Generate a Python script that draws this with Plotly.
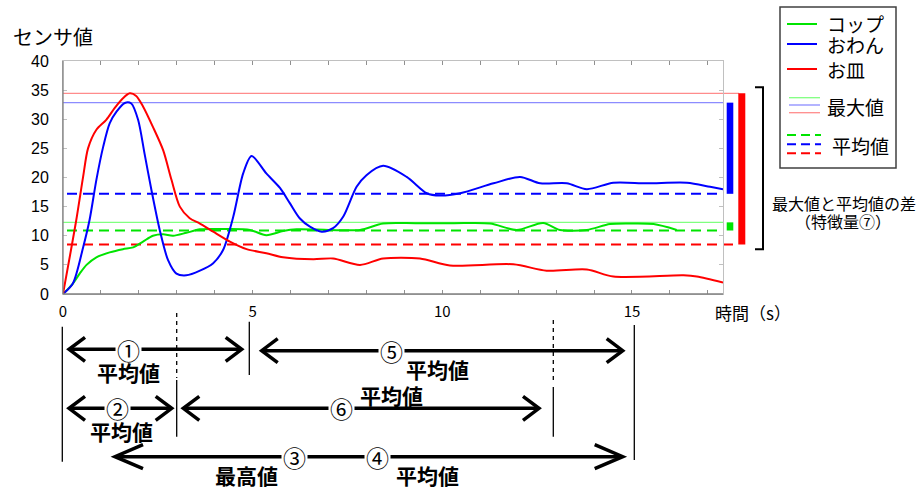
import plotly.graph_objects as go

# ---------------- data ----------------
t_cup = [0, 0.26, 0.44, 0.62, 0.88, 1.23, 1.58, 1.85, 2.11, 2.37, 2.64, 2.90, 3.25, 3.61,
         4.31, 4.93, 5.36, 5.80, 6.16, 7.0, 7.83, 8.44, 9.3, 10.3, 11.26, 11.96, 12.66, 13.1,
         13.81, 14.42, 15.0, 15.57, 16.18]
v_cup = [0, 1.8, 3.5, 5.0, 6.3, 7.15, 7.7, 8.0, 9.0, 10.0, 10.25, 10.0, 10.5, 11.1,
         11.15, 11.0, 10.1, 10.8, 11.1, 11.0, 11.0, 12.1, 12.15, 12.15, 12.1, 11.0, 12.2, 11.0,
         11.0, 12.0, 12.1, 12.0, 11.0]

t_bowl = [0, 0.26, 0.53, 0.70, 0.88, 1.06, 1.23, 1.41, 1.63, 1.80, 1.98, 2.15, 2.33, 2.55,
          2.77, 2.99, 3.25, 3.61, 3.96, 4.22, 4.49, 4.75, 4.97, 5.36, 5.72, 5.98, 6.24,
          6.51, 6.82, 7.12, 7.39, 7.74, 8.0, 8.44, 9.06, 9.59, 9.94, 10.47, 11.35, 12.05,
          12.58, 13.28, 13.81, 14.51, 15.39, 16.45, 17.06, 17.4]
v_bowl = [0, 1.8, 8.0, 12.7, 19.6, 25.3, 29.3, 31.3, 32.8, 32.7, 29.9, 24.1, 17.9, 11.0,
          5.8, 3.5, 3.2, 4.0, 5.3, 7.55, 13.3, 20.7, 23.7, 20.7, 18.2, 15.6, 13.0,
          11.55, 10.7, 11.3, 13.3, 18.4, 20.4, 22.0, 20.1, 17.3, 16.9, 17.3, 19.0, 20.1,
          19.0, 19.0, 18.0, 19.1, 19.0, 19.1, 18.4, 18.0]

t_plate = [0, 0.35, 0.53, 0.66, 0.88, 1.14, 1.36, 1.58, 1.76, 1.93, 2.11, 2.37, 2.64, 2.86,
           3.08, 3.34, 3.61, 3.96, 4.40, 4.84, 5.36, 5.80, 6.6, 7.12, 7.83, 8.44, 9.41,
           10.2, 11.87, 12.75, 13.81, 14.51, 16.36, 16.71, 17.4]
v_plate = [0, 12.7, 20.1, 25.0, 28.2, 29.9, 31.9, 33.6, 34.45, 34.0, 32.2, 28.7, 24.7, 19.6,
           15.0, 13.0, 12.1, 10.7, 9.0, 7.7, 7.0, 6.3, 5.95, 6.1, 5.0, 6.1, 6.1,
           4.9, 5.1, 4.0, 4.2, 3.0, 3.2, 3.0, 1.95]

series_names = ["コップ", "おわん", "お皿"]
series_colors = ["#00e400", "#0000ff", "#ff0000"]
max_colors = ["#80ff80", "#8c8cff", "#ff8c8c"]
max_values = [12.3, 32.85, 34.45]
avg_values = [10.9, 17.2, 8.5]

x_ticks = [0, 5, 10, 15]
y_ticks = [0, 5, 10, 15, 20, 25, 30, 35, 40]

# ---------------- layout geometry ----------------
W, H = 919, 489
L, R, T, B = 63, 723, 61, 294


def px(x):
    return (x - L) / (R - L)


def py(y):
    return (B - y) / (B - T)


JP = "Noto Sans CJK JP"

fig = go.Figure()
series = [(t_cup, v_cup), (t_bowl, v_bowl), (t_plate, v_plate)]
for (t, v), name, col in zip(series, series_names, series_colors):
    fig.add_trace(go.Scatter(x=t, y=v, mode="lines", name=name,
                             line=dict(color=col, width=2, shape="spline", smoothing=0.8),
                             showlegend=False, hoverinfo="skip"))

shapes = []
annotations = []


def text(x, y, s, size, xanchor="center", bg=None, pad=1):
    a = dict(xref="paper", yref="paper", x=px(x), y=py(y), text=s, showarrow=False,
             xanchor=xanchor, yanchor="middle", borderpad=pad,
             font=dict(family=JP, size=size, color="black"))
    if bg:
        a["bgcolor"] = bg
    annotations.append(a)


# max lines, average lines, difference bars
for i in range(3):
    ext = px(739) if i == 2 else 1
    shapes.append(dict(type="line", xref="paper", yref="y", x0=0, x1=ext,
                       y0=max_values[i], y1=max_values[i],
                       line=dict(color=max_colors[i], width=1.3), layer="below"))
for i in range(3):
    ext = px(739) if i == 2 else 1
    shapes.append(dict(type="line", xref="paper", yref="y", x0=px(67), x1=ext,
                       y0=avg_values[i], y1=avg_values[i],
                       line=dict(color=series_colors[i], width=2, dash="10px,6px"), layer="below"))
bar_x = [(726.7, 733.3), (726.7, 733.3), (738.3, 745.3)]
for i in range(3):
    shapes.append(dict(type="rect", xref="paper", yref="y", x0=px(bar_x[i][0]), x1=px(bar_x[i][1]),
                       y0=avg_values[i], y1=max_values[i],
                       fillcolor=series_colors[i], line=dict(width=0)))

# darker left / bottom axis lines
shapes.append(dict(type="line", xref="paper", yref="paper", x0=0, x1=0, y0=0, y1=1,
                   line=dict(color="#808080", width=1.3)))
shapes.append(dict(type="line", xref="paper", yref="paper", x0=0, x1=1, y0=0, y1=0,
                   line=dict(color="#808080", width=1.3)))

# bracket
shapes.append(dict(type="path", xref="paper", yref="paper",
                   path=f"M {px(755)},{py(87.3)} L {px(763)},{py(87.3)} L {px(763)},{py(249.3)} L {px(755)},{py(249.3)}",
                   line=dict(color="black", width=2)))
text(844, 202.5, "最大値と平均値の差", 16)
text(843, 221, "（特徴量⑦）", 16)

# legend box
shapes.append(dict(type="rect", xref="paper", yref="paper", x0=px(780), x1=px(896), y0=py(7), y1=py(168),
                   line=dict(color="#404040", width=1.5), fillcolor="rgba(0,0,0,0)"))
leg_y = [24, 44, 69]
for i in range(3):
    shapes.append(dict(type="line", xref="paper", yref="paper", x0=px(787), x1=px(817),
                       y0=py(leg_y[i]), y1=py(leg_y[i]), line=dict(color=series_colors[i], width=2)))
    text(825, leg_y[i], series_names[i], 19, xanchor="left")
for i, yy in enumerate([97.7, 105, 112.7]):
    shapes.append(dict(type="line", xref="paper", yref="paper", x0=px(789), x1=px(820),
                       y0=py(yy), y1=py(yy), line=dict(color=max_colors[i], width=1.3)))
text(825, 106, "最大値", 19, xanchor="left")
for i, yy in enumerate([135, 144.3, 153.3]):
    shapes.append(dict(type="line", xref="paper", yref="paper", x0=px(787), x1=px(821),
                       y0=py(yy), y1=py(yy), line=dict(color=series_colors[i], width=2, dash="9px,5px")))
text(830, 145, "平均値", 19, xanchor="left")

# title and x-axis caption
text(11, 37, "センサ値", 20, xanchor="left")
text(713, 312, "時間（s）", 17, xanchor="left")

# ---------------- period diagram below the axis ----------------
def vline(x, y0, y1, dash=None):
    ln = dict(color="black", width=1.3)
    if dash:
        ln["dash"] = dash
    shapes.append(dict(type="line", xref="paper", yref="paper", x0=px(x), x1=px(x),
                       y0=py(y0), y1=py(y1), line=ln))


vline(62.3, 326.7, 461.7)
vline(249.3, 321.7, 375)
vline(176.7, 313, 378, "4px,4px")
vline(176.7, 380, 436.7)
vline(553.3, 320, 383, "4px,4px")
vline(553.3, 387, 436.7)
vline(634.3, 325, 460)


def arrow(xa, xb, y, dx=16, dy=12):
    shapes.append(dict(type="line", xref="paper", yref="paper", x0=px(xa + 1), x1=px(xb - 1),
                       y0=py(y), y1=py(y), line=dict(color="black", width=3.5)))
    shapes.append(dict(type="path", xref="paper", yref="paper",
                       path=f"M {px(xa + dx)},{py(y - dy)} L {px(xa)},{py(y)} L {px(xa + dx)},{py(y + dy)}",
                       line=dict(color="black", width=3.5)))
    shapes.append(dict(type="path", xref="paper", yref="paper",
                       path=f"M {px(xb - dx)},{py(y - dy)} L {px(xb)},{py(y)} L {px(xb - dx)},{py(y + dy)}",
                       line=dict(color="black", width=3.5)))


arrow(69, 241.7, 349.3)
arrow(261.7, 622.7, 350.7)
arrow(69, 171.7, 408.3)
arrow(183.3, 539, 408.3)
arrow(115, 622.7, 456.7, dx=28, dy=12)


def num(x, y, s):
    text(x, y, s, 23, bg="white", pad=1)


def bold(x, y, s):
    text(x, y, "<b>" + s + "</b>", 21)


num(128, 349.5, "①")
num(391, 350.5, "⑤")
num(117, 408, "②")
num(341, 408, "⑥")
num(294, 456.5, "③")
num(377.5, 456.5, "④")
bold(128, 372, "平均値")
bold(437, 369, "平均値")
bold(121, 431, "平均値")
bold(391, 395, "平均値")
bold(246, 474.5, "最高値")
bold(427, 474.5, "平均値")

fig.update_layout(
    width=W, height=H,
    margin=dict(l=L, r=W - R, t=T, b=H - B, pad=0),
    paper_bgcolor="white", plot_bgcolor="white",
    showlegend=False,
    shapes=shapes, annotations=annotations,
    xaxis=dict(range=[0, 17.4], tickvals=x_ticks, ticks="inside", ticklen=4, tickcolor="#909090",
               minor=dict(dtick=1, ticks="inside", ticklen=4, tickcolor="#909090"),
               showline=True, linecolor="#c0c0c0", mirror="ticks", showgrid=False, zeroline=False,
               tickfont=dict(family=JP, size=15, color="black"), ticklabelstandoff=4),
    yaxis=dict(range=[0, 40], tickvals=y_ticks, ticks="inside", ticklen=4, tickcolor="#c0c0c0",
               showline=True, linecolor="#c0c0c0", mirror="ticks", showgrid=False, zeroline=False,
               tickfont=dict(family="Liberation Sans", size=16, color="black"), ticklabelstandoff=10),
)

fig.write_html("out.html", config={"displayModeBar": False},
               post_script="document.body.style.margin='0';document.body.style.overflow='hidden';")
